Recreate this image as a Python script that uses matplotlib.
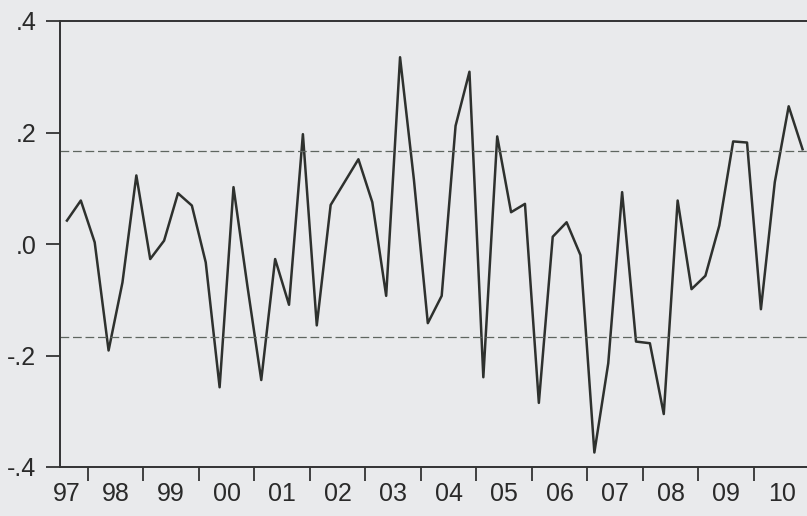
import numpy as np
import matplotlib
matplotlib.use('Agg')
import matplotlib.pyplot as plt

# quarterly series, 1997Q3 .. 2010Q4
start_year = 1997.5
values = [0.042, 0.078, 0.003, -0.191, -0.069, 0.123, -0.027, 0.006,
          0.091, 0.069, -0.033, -0.257, 0.102, -0.075, -0.244, -0.027,
          -0.109, 0.197, -0.146, 0.070, 0.111, 0.152, 0.075, -0.093,
          0.335, 0.115, -0.142, -0.093, 0.212, 0.309, -0.239, 0.193,
          0.057, 0.072, -0.285, 0.013, 0.039, -0.020, -0.374, -0.214,
          0.093, -0.175, -0.178, -0.305, 0.078, -0.081, -0.057, 0.033,
          0.184, 0.182, -0.117, 0.111, 0.247, 0.170]
band = 0.167

year_ticks = list(range(1998, 2011))
year_label_pos = [1997.62] + [y + 0.5 for y in range(1998, 2011)]
year_labels = ['97', '98', '99', '00', '01', '02', '03', '04', '05', '06',
               '07', '08', '09', '10']
y_ticks = [-0.4, -0.2, 0.0, 0.2, 0.4]
y_labels = ['-.4', '-.2', '.0', '.2', '.4']

x = start_year + (np.arange(len(values)) + 0.5) / 4

bg = '#e9eaec'
plt.rcParams['font.family'] = ['Liberation Sans', 'DejaVu Sans']

fig = plt.figure(figsize=(8.07, 5.16), dpi=100, facecolor=bg)
ax = fig.add_axes([60 / 807, 49 / 516, 749.5 / 807, 446 / 516])
ax.set_facecolor(bg)

ax.plot(x, values, color='#2e312e', linewidth=1.8)
ax.axhline(band, color='#5f6660', linewidth=0.9, dashes=(7, 3))
ax.axhline(-band, color='#5f6660', linewidth=0.9, dashes=(7, 3))

ax.set_xlim(1997.5, 2011.0)
ax.set_ylim(-0.4, 0.4)

ax.set_xticks(year_ticks)
ax.set_xticklabels([''] * len(year_ticks))
ax.set_xticks(year_label_pos, minor=True)
ax.set_xticklabels(year_labels, minor=True)
ax.tick_params(axis='x', which='major', direction='out', length=10,
               width=1.3, color='#333333')
ax.tick_params(axis='x', which='minor', length=0, pad=11,
               labelsize=18, labelcolor='#2a2a2a')

ax.set_yticks(y_ticks)
ax.set_yticklabels(y_labels)
ax.tick_params(axis='y', direction='out', length=10, width=1.3,
               color='#333333', pad=7, labelsize=18, labelcolor='#2a2a2a')

for side in ['left', 'top', 'bottom']:
    ax.spines[side].set_color('#333333')
    ax.spines[side].set_linewidth(1.4)
ax.spines['right'].set_visible(False)

fig.savefig('out.png', dpi=100, facecolor=bg)
